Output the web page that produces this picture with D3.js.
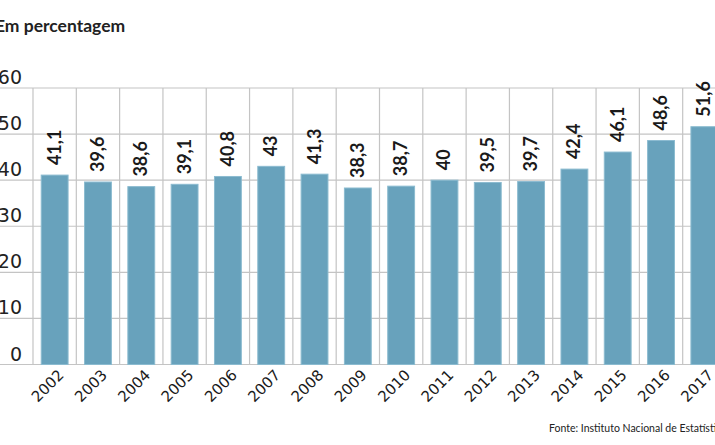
<!DOCTYPE html>
<html>
<head>
<meta charset="utf-8">
<script src="https://cdn.jsdelivr.net/npm/d3@7"></script>
<style>
  body { margin: 0; background: #fff; }
  svg { display: block; }
</style>
</head>
<body>
<svg id="chart" width="715" height="445"></svg>
<script>
var years = ["2002", "2003", "2004", "2005", "2006", "2007", "2008", "2009",
             "2010", "2011", "2012", "2013", "2014", "2015", "2016", "2017"];
var values = [41.1, 39.6, 38.6, 39.1, 40.8, 43, 41.3, 38.3,
              38.7, 40, 39.5, 39.7, 42.4, 46.1, 48.6, 51.6];
var yTicks = [0, 10, 20, 30, 40, 50, 60];

var svg = d3.select("#chart");

var x = d3.scaleBand()
    .domain(years)
    .range([33, 726])
    .paddingInner(0.38)
    .paddingOuter(0.19);

var y = d3.scaleLinear()
    .domain([0, 60])
    .range([364.5, 88]);

var fmt = function (v) { return String(v).replace(".", ","); };
var step = x.step();

// horizontal grid
svg.append("g").selectAll("line")
    .data(yTicks)
    .enter().append("line")
    .attr("x1", 0)
    .attr("x2", 715)
    .attr("y1", function (d) { return y(d); })
    .attr("y2", function (d) { return y(d); })
    .attr("stroke", "#c4c4c4")
    .attr("stroke-width", 1.2);

// vertical grid at band boundaries
svg.append("g").selectAll("line")
    .data(years)
    .enter().append("line")
    .attr("x1", function (d) { return x(d) + x.bandwidth() / 2 - step / 2; })
    .attr("x2", function (d) { return x(d) + x.bandwidth() / 2 - step / 2; })
    .attr("y1", y(60))
    .attr("y2", y(0))
    .attr("stroke", "#c4c4c4")
    .attr("stroke-width", 1.2);

// y tick labels
svg.append("g").selectAll("text")
    .data(yTicks)
    .enter().append("text")
    .attr("x", 22)
    .attr("y", function (d) { return y(d) - 4; })
    .attr("text-anchor", "end")
    .attr("font-family", "DejaVu Sans")
    .attr("font-size", 19)
    .attr("fill", "#222")
    .text(function (d) { return d; });

// bars
svg.append("g").selectAll("rect")
    .data(values)
    .enter().append("rect")
    .attr("x", function (d, i) { return x(years[i]); })
    .attr("y", function (d) { return y(d); })
    .attr("width", x.bandwidth())
    .attr("height", function (d) { return y(0) - y(d); })
    .attr("fill", "#68a2bc")
    .attr("stroke", "#8bbbd0")
    .attr("stroke-width", 1);

// value labels
svg.append("g").selectAll("text")
    .data(values)
    .enter().append("text")
    .attr("transform", function (d, i) {
        return "translate(" + (x(years[i]) + x.bandwidth() / 2 + 6) + "," + (y(d) - 10) + ") rotate(-90)";
    })
    .attr("font-family", "Lato")
    .attr("font-weight", "bold")
    .attr("font-size", 18)
    .attr("fill", "#1a1a1a")
    .text(function (d) { return fmt(d); });

// x labels
svg.append("g").selectAll("text")
    .data(years)
    .enter().append("text")
    .attr("transform", function (d) {
        return "translate(" + (x(d) + x.bandwidth() / 2 + 10) + "," + 376 + ") rotate(-45)";
    })
    .attr("text-anchor", "end")
    .attr("font-family", "DejaVu Sans")
    .attr("font-size", 15)
    .attr("fill", "#1a1a1a")
    .text(function (d) { return d; });

// title
svg.append("text")
    .attr("x", -5)
    .attr("y", 32)
    .attr("font-family", "Lato")
    .attr("font-weight", "bold")
    .attr("font-size", 17.5)
    .attr("fill", "#222")
    .text("Em percentagem");

// source
svg.append("text")
    .attr("x", 549)
    .attr("y", 432)
    .attr("font-family", "Lato")
    .attr("font-size", 10.5)
    .attr("fill", "#222")
    .text("Fonte: Instituto Nacional de Estatística");
</script>
</body>
</html>
